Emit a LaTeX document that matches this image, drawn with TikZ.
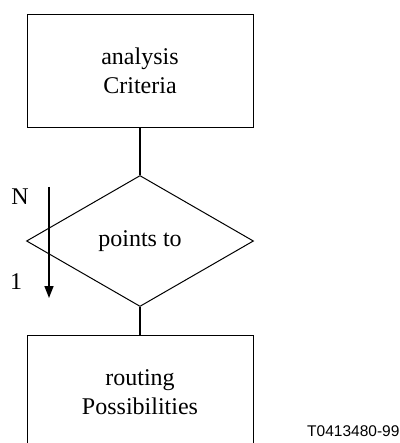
\documentclass[tikz,border=0pt]{standalone}
\usepackage{fontspec}
\setmainfont{Liberation Serif}
\newfontfamily\tagfont{Liberation Sans}
\usetikzlibrary{shapes.geometric, arrows.meta, positioning}
\tikzstyle{entity} = [rectangle, draw=black, line width=1pt, minimum width=226pt, minimum height=113pt, inner sep=0pt, align=center, font=\fontsize{24}{28.5}\selectfont]
\tikzstyle{relation} = [diamond, draw=black, line width=1pt, minimum width=227pt, minimum height=131pt, inner sep=0pt, align=center, font=\fontsize{24}{28.5}\selectfont]
\tikzstyle{link} = [line width=1.4pt]
\tikzstyle{card} = [font=\fontsize{24}{28.5}\selectfont, inner sep=0pt]
\tikzstyle{arrow} = [line width=1.6pt, -{Triangle[length=12pt,width=9pt]}]

\begin{document}
\begin{tikzpicture}[x=1pt, y=-1pt]
\useasboundingbox (0,0) rectangle (399,443);
\clip (0,0) rectangle (399,443);

% Entities
\node[entity] (crit) at (140,71) {analysis\\Criteria};
\node[entity, minimum height=114pt] (route) at (140,392) {routing\\Possibilities};

% Relationship
\node[relation] (rel) at (140,241) {points to};

% Connections
\draw[link] (crit.south) -- (rel.north);
\draw[link] (rel.south) -- (route.north);

% Cardinality
\node[card] (many) at (20,197) {N};
\node[card] (one) at (16,282) {1};
\coordinate (arrtop) at (49,187);
\coordinate (arrtip) at (49,298);
\draw[arrow] (arrtop) -- (arrtip);

% Figure tag
\node[anchor=base west, inner sep=0pt, font=\tagfont\fontsize{15.5}{18}\selectfont] (tag) at (307,436) {T0413480-99};

\end{tikzpicture}
\end{document}
